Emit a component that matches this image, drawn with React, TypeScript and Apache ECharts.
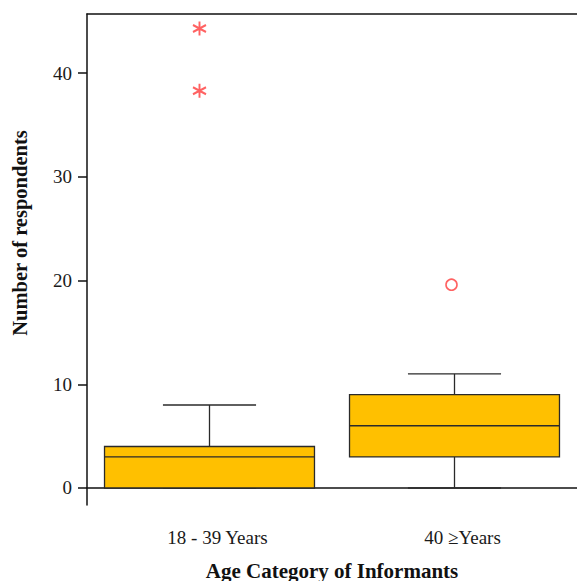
import React, { useEffect, useRef } from "react";
import * as echarts from "echarts";

const categories = ["18 - 39 Years", "40 \u2265Years"];
// [index, min, Q1, median, Q3, max]
const boxValues = [
  [0, 0, 0, 3, 4, 8],
  [1, 0, 3, 6, 9, 11],
];
const extremeOutliers = [
  [0, 44.3],
  [0, 38.3],
];
const mildOutliers = [[1, 19.6]];
const yTicks = [0, 10, 20, 30, 40];

const SERIF = "'Liberation Serif', 'Times New Roman', serif";
const STAR =
  "path://M0,0 L0,20 M-8.66,5 L8.66,15 M-8.66,15 L8.66,5";

export default function App() {
  const ref = useRef<HTMLDivElement>(null);
  useEffect(() => {
    if (!ref.current) return;
    const chart = echarts.init(ref.current, null, { renderer: "svg" });
    chart.setOption({
      animation: false,
      backgroundColor: "#ffffff",
      grid: { left: 87, right: 0, top: 14, bottom: 76, containLabel: false, outerBoundsMode: "none" },
      xAxis: [
        {
          type: "category",
          data: categories,
          boundaryGap: true,
          axisLine: { lineStyle: { color: "#111", width: 1.5 } },
          axisTick: { alignWithLabel: true, length: 10, lineStyle: { color: "#111", width: 1.5 } },
          axisLabel: {
            color: "#1a1a1a",
            fontFamily: SERIF,
            fontSize: 19,
            margin: 23,
            padding: [0, 0, 0, 16],
          },
          splitLine: { show: false },
          name: "Age Category of Informants",
          nameLocation: "middle",
          nameGap: 55,
          nameTextStyle: { fontFamily: SERIF, fontWeight: "bold", fontSize: 21, color: "#111" },
        },
        {
          type: "category",
          data: categories,
          position: "top",
          axisLine: { lineStyle: { color: "#111", width: 1.5 } },
          axisTick: { show: false },
          axisLabel: { show: false },
        },
      ],
      yAxis: {
        type: "value",
        min: -1.64,
        max: 45.7,
        axisLine: { show: true, lineStyle: { color: "#111", width: 1.5 } },
        axisTick: { show: true, length: 9, customValues: yTicks, lineStyle: { color: "#111", width: 1.5 } },
        axisLabel: {
          customValues: yTicks,
          color: "#1a1a1a",
          fontFamily: SERIF,
          fontSize: 19,
          margin: 15,
        },
        splitLine: { show: false },
      },
      graphic: [
        {
          type: "text",
          x: 20,
          y: 233,
          rotation: Math.PI / 2,
          style: {
            text: "Number of respondents",
            font: `bold 20.5px ${SERIF}`,
            fill: "#111",
            textAlign: "center",
            textVerticalAlign: "middle",
          },
        },
      ],
      series: [
        {
          type: "custom",
          data: boxValues,
          encode: { x: 0, y: [1, 2, 3, 4, 5] },
          renderItem: (params: any, api: any) => {
            const x = api.value(0);
            const lo = api.coord([x, api.value(1)]);
            const q1 = api.coord([x, api.value(2)]);
            const med = api.coord([x, api.value(3)]);
            const q3 = api.coord([x, api.value(4)]);
            const hi = api.coord([x, api.value(5)]);
            const band = api.size([1, 0])[0];
            const bw = band * 0.857;
            const cw = band * 0.38;
            const cx = lo[0];
            const lineStyle = { stroke: "#2a2a2a", lineWidth: 1.3, fill: "none" };
            return {
              type: "group",
              children: [
                { type: "line", shape: { x1: cx, y1: hi[1], x2: cx, y2: q3[1] }, style: lineStyle },
                { type: "line", shape: { x1: cx, y1: lo[1], x2: cx, y2: q1[1] }, style: lineStyle },
                { type: "line", shape: { x1: cx - cw / 2, y1: hi[1], x2: cx + cw / 2, y2: hi[1] }, style: lineStyle },
                { type: "line", shape: { x1: cx - cw / 2, y1: lo[1], x2: cx + cw / 2, y2: lo[1] }, style: lineStyle },
                {
                  type: "rect",
                  shape: { x: cx - bw / 2, y: q3[1], width: bw, height: q1[1] - q3[1] },
                  style: { fill: "#FFC000", stroke: "#2a2a2a", lineWidth: 1.3 },
                },
                { type: "line", shape: { x1: cx - bw / 2, y1: med[1], x2: cx + bw / 2, y2: med[1] }, style: lineStyle },
              ],
            };
          },
        },
        {
          type: "scatter",
          data: extremeOutliers,
          symbol: STAR,
          symbolSize: [13, 14],
          symbolOffset: [-10, 0],
          itemStyle: { color: "#ff3b3b", borderColor: "#ff3b3b", borderWidth: 2 },
        },
        {
          type: "scatter",
          data: mildOutliers,
          symbol: "circle",
          symbolSize: 11,
          symbolOffset: [-3, 0],
          itemStyle: { color: "#ffffff", borderColor: "#ff3b3b", borderWidth: 1.6 },
        },
      ],
    });
    return () => chart.dispose();
  }, []);
  return (
    <div
      ref={ref}
      style={{ position: "fixed", left: 0, top: 0, width: 577, height: 581 }}
    />
  );
}
